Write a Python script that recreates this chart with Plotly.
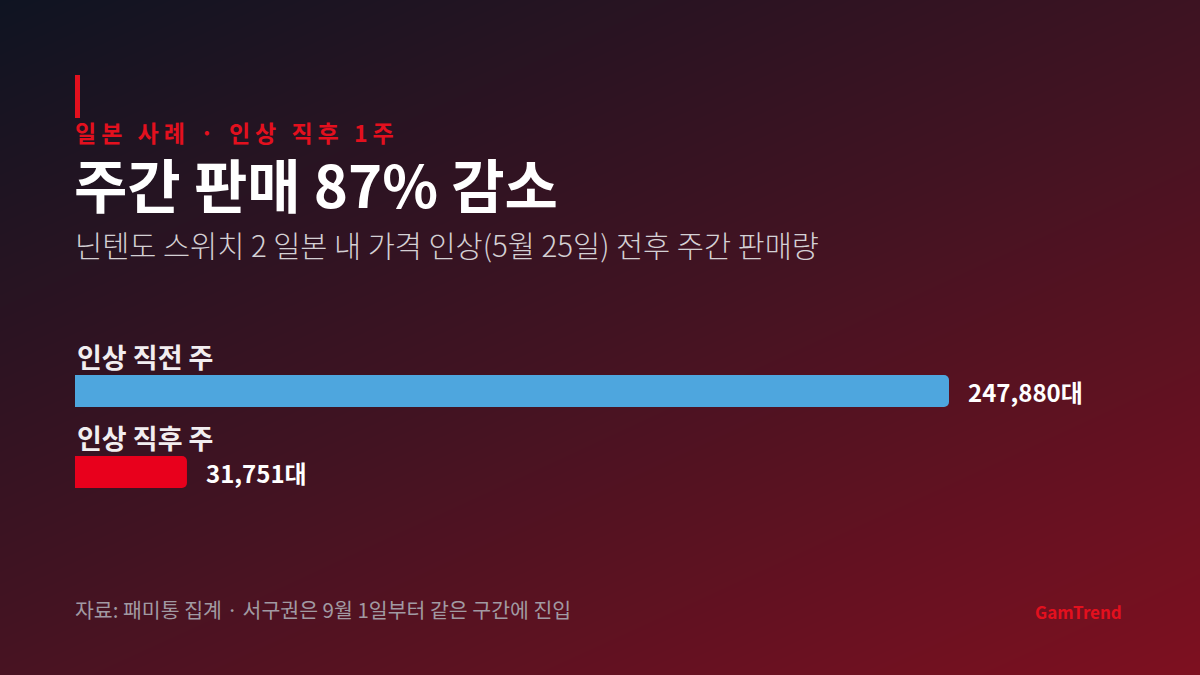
import plotly.graph_objects as go

# ---- data ----
categories = ["인상 직전 주", "인상 직후 주"]
values = [247880, 31751]
value_labels = ["247,880대", "31,751대"]
bar_colors = ["#4ea6de", "#e8001c"]

kicker = "일본 사례 · 인상 직후 1주"
title = "주간 판매 87% 감소"
subtitle = "닌텐도 스위치 2 일본 내 가격 인상(5월 25일) 전후 주간 판매량"
footer = "자료: 패미통 집계 · 서구권은 9월 1일부터 같은 구간에 진입"
brand = "GamTrend"

W, H = 1200, 675
FONT = "Noto Sans CJK KR"

fig = go.Figure()

# background gradient (diagonal) via heatmap on full-paper axes
n = 11
gx = [i / (n - 1) for i in range(n)]
gy = [i / (n - 1) for i in range(n)]
gz = [[0.45 * x + 0.55 * (1 - y) for x in gx] for y in gy]
fig.add_trace(go.Heatmap(
    x=gx, y=gy, z=gz, zmin=0, zmax=1, zsmooth="best", showscale=False,
    colorscale=[[0, "#0f1422"], [0.5, "#421322"], [1, "#7e1020"]],
    hoverinfo="skip", xaxis="x", yaxis="y",
))

# bars
fig.add_trace(go.Bar(
    x=values, y=list(range(len(categories))), orientation="h",
    marker=dict(color=bar_colors, line=dict(width=0)),
    width=0.395, xaxis="x2", yaxis="y2", hoverinfo="skip",
))

x0p, x1p = 75 / W, 949 / W
ytop, ybot = 350.5, 512.5
fig.update_layout(
    width=W, height=H,
    margin=dict(l=0, r=0, t=0, b=0),
    paper_bgcolor="#10141f", plot_bgcolor="rgba(0,0,0,0)",
    showlegend=False, barcornerradius=5,
    xaxis=dict(domain=[0, 1], range=[0, 1], visible=False, fixedrange=True),
    yaxis=dict(domain=[0, 1], range=[0, 1], visible=False, fixedrange=True),
    xaxis2=dict(domain=[x0p, x1p], range=[0, values[0]], visible=False, anchor="y2", fixedrange=True),
    yaxis2=dict(domain=[1 - ybot / H, 1 - ytop / H], range=[1.5, -0.5], visible=False, anchor="x2", fixedrange=True),
)

ann = []
def ptxt(text, x, y, size, color, weight=400, xanchor="left", yanchor="middle"):
    ann.append(dict(text=text, x=x / W, y=1 - y / H, xref="paper", yref="paper",
                    xanchor=xanchor, yanchor=yanchor, showarrow=False,
                    font=dict(family=FONT, size=size, color=color, weight=weight)))

ptxt(f'<span style="letter-spacing:5px">{kicker}</span>', 73, 132, 23, "#e3101e", 700)
ptxt(title, 72, 183, 58, "#ffffff", 700)
ptxt(subtitle, 73, 244, 29.5, "#d4d0d4", 300)
ptxt(footer, 73, 609, 20.5, "#a19aa2", 400)
ptxt(brand, 1124, 611, 17, "#e3101e", 700, xanchor="right")

for i, (c, v, lab) in enumerate(zip(categories, values, value_labels)):
    ann.append(dict(text=c, x=0, y=i, xref="x2", yref="y2", xanchor="left", yanchor="middle",
                    yshift=35, showarrow=False,
                    font=dict(family=FONT, size=27, color="#f2eef0", weight=700)))
    ann.append(dict(text=lab, x=v, y=i, xref="x2", yref="y2", xanchor="left", yanchor="middle",
                    xshift=17, showarrow=False,
                    font=dict(family=FONT, size=24, color="#ffffff", weight=700)))
fig.update_layout(annotations=ann)

fig.add_shape(type="rect", xref="paper", yref="paper",
              x0=75 / W, x1=80 / W, y0=1 - 118 / H, y1=1 - 75 / H,
              fillcolor="#e3101e", line=dict(width=0))

fig.write_html("out.html", config={"displayModeBar": False},
               post_script="document.body.style.margin='0';")
